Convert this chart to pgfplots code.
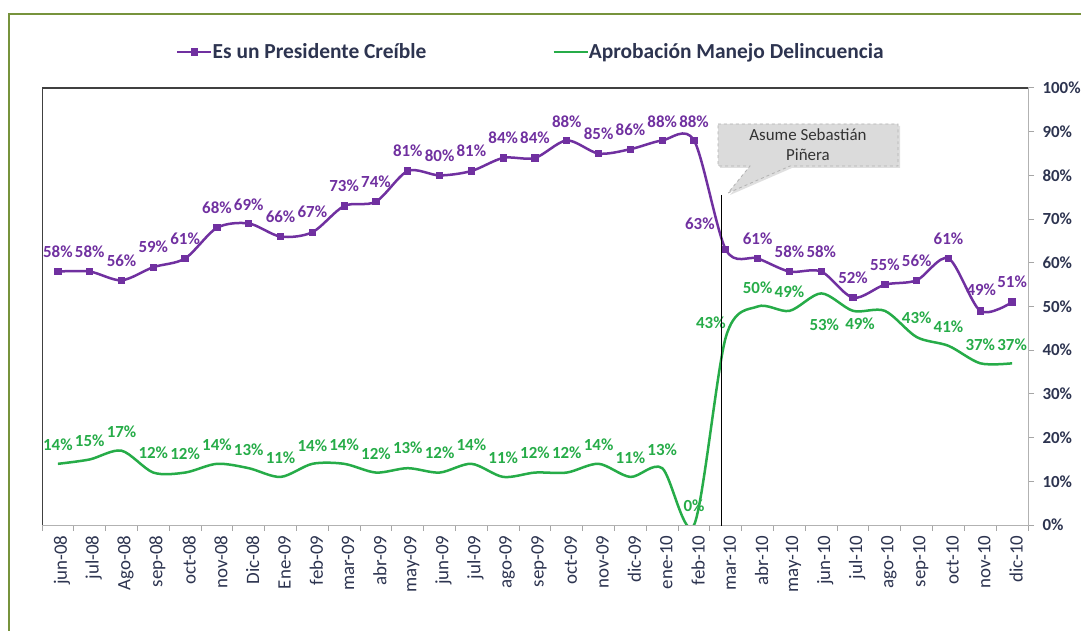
\documentclass[border=0pt]{standalone}
\usepackage{fontspec}
\setmainfont{Carlito}
\usepackage{pgfplots}
\pgfplotsset{compat=1.18}
\usepackage{pgfplotstable}
\usetikzlibrary{shadows}
\definecolor{purp}{RGB}{112,48,160}
\definecolor{grn}{RGB}{38,172,72}
\definecolor{navy}{RGB}{45,52,80}
\definecolor{framecol}{RGB}{119,147,60}

\pgfplotstableread{
x p g pdx pdy gdx gdy
0 58 14 0 20 0 19
1 58 15 0 20 0 19
2 56 17 0 20 0 19
3 59 12 0 20 0 20
4 61 12 0 20 0 19
5 68 14 0 20 0 19
6 69 13 0 19 0 18
7 66 11 0 20 0 19
8 67 14 0 20 0 18
9 73 14 0 20 0 19
10 74 12 0 20 0 19
11 81 13 0 20 0 20
12 80 12 0 20 0 20
13 81 14 0 20 0 19
14 84 11 0 20 0 19
15 84 12 0 20 0 20
16 88 12 0 19 0 20
17 85 14 0 20 0 19
18 86 11 0 19 0 19
19 88 13 0 19 0 18
20 88 0 0 19 0 19
21 63 43 -26 26 -15 14
22 61 50 0 20 0 19
23 58 49 0 20 0 19
24 58 53 0 20 3 -31
25 52 49 0 20 7 -13
26 55 49 0 20 0 19
27 56 43 0 20 0 19
28 61 41 0 20 0 19
29 49 37 1 21 0 19
30 51 37 0 20 0 19
}\data

\begin{document}
\begin{tikzpicture}
\useasboundingbox (0bp,0bp) rectangle (1081bp,631bp);
\fill[white] (0bp,0bp) rectangle (1081bp,631bp);
\draw[framecol, line width=2bp] (9bp,-10bp) -- (9bp,617bp) -- (1100bp,617bp);
\begin{axis}[
  at={(42bp,106bp)}, anchor=south west,
  scale only axis, width=986bp, height=437bp,
  /pgf/number format/assume math mode=true,
  xmin=-0.5, xmax=30.5, ymin=0, ymax=100,
  xtick={0,...,30},
  xticklabels={jun-08,jul-08,Ago-08,sep-08,oct-08,nov-08,Dic-08,Ene-09,feb-09,mar-09,abr-09,may-09,jun-09,jul-09,ago-09,sep-09,oct-09,nov-09,dic-09,ene-10,feb-10,mar-10,abr-10,may-10,jun-10,jul-10,ago-10,sep-10,oct-10,nov-10,dic-10},
  minor xtick={-0.5,0.5,...,30.5},
  ytick={0,10,...,100},
  yticklabel={\pgfmathprintnumber{\tick}\%},
  xtick pos=bottom, ytick pos=right,
  tick align=outside,
  major tick length=6bp, minor tick length=6bp,
  major x tick style={draw=none},
  minor x tick style={gray!70, line width=1bp},
  y tick style={gray!70, line width=1bp},
  axis line style={gray!60, line width=1bp},
  xticklabel style={rotate=90, anchor=east, yshift=-4bp, xshift=-1bp, font=\fontsize{19}{19}\selectfont, text=navy},
  yticklabel style={xshift=5bp, font=\bfseries\fontsize{17}{17}\selectfont, text=navy},
  legend style={at={(0.1329,1.0824)}, anchor=west, draw=none, fill=none,
    font=\bfseries\fontsize{21.5}{21.5}\selectfont, text=navy,
    /tikz/every even column/.append style={column sep=124bp},
    /tikz/every odd column/.append style={column sep=-2bp}},
  legend columns=2,
  legend image code/.code={\draw[mark repeat=2,mark phase=2,#1] plot coordinates {(0bp,0bp) (17bp,0bp) (34bp,0bp)};},
]
\addplot[purp, line width=2.5bp, smooth, tension=0.5, mark=square*, mark size=2.4bp, mark options={solid}] table[x=x,y=p]{\data};
\addlegendentry{Es un Presidente Creíble}
\addplot[grn, line width=2.5bp, smooth, tension=0.5, mark=none] table[x=x,y=g]{\data};
\addlegendentry{Aprobación Manejo Delincuencia}

\addplot[forget plot, draw=none, mark=none, point meta=explicit,
  nodes near coords={\pgfmathprintnumber{\pgfplotspointmeta}\%},
  visualization depends on={\thisrow{pdx}\as\ldx},
  visualization depends on={\thisrow{pdy}\as\ldy},
  every node near coord/.append style={anchor=center, xshift=\ldx bp, yshift=\ldy bp, inner sep=0pt,
    font=\bfseries\fontsize{17}{17}\selectfont, text=purp}]
  table[x=x,y=p,meta=p]{\data};
\addplot[forget plot, draw=none, mark=none, point meta=explicit,
  skip coords between index={26}{27},
  nodes near coords={\pgfmathprintnumber{\pgfplotspointmeta}\%},
  visualization depends on={\thisrow{gdx}\as\ldx},
  visualization depends on={\thisrow{gdy}\as\ldy},
  every node near coord/.append style={anchor=center, xshift=\ldx bp, yshift=\ldy bp, inner sep=0pt,
    font=\bfseries\fontsize{17}{17}\selectfont, text=grn}]
  table[x=x,y=g,meta=g]{\data};
\draw[black!75, line width=1.6bp] (rel axis cs:0,0) -- (rel axis cs:0,1) -- (rel axis cs:1,1);
\end{axis}
\draw[black, line width=1bp] (721bp,436bp) -- (721bp,105bp);
\filldraw[draw=gray!60, dashed, fill=gray!28, line width=0.8bp,
  drop shadow={opacity=0.25, shadow xshift=2bp, shadow yshift=-2bp}]
  (718bp,507bp) -- (898bp,507bp) -- (898bp,465bp) -- (790bp,465bp) -- (728bp,438bp)
  -- (750bp,465bp) -- (718bp,465bp) -- cycle;
\node[align=center, text=gray!40!black, font=\fontsize{17}{20}\selectfont, inner sep=0pt]
  at (808bp,486bp) {Asume Sebastián\\Piñera};
\end{tikzpicture}
\end{document}
